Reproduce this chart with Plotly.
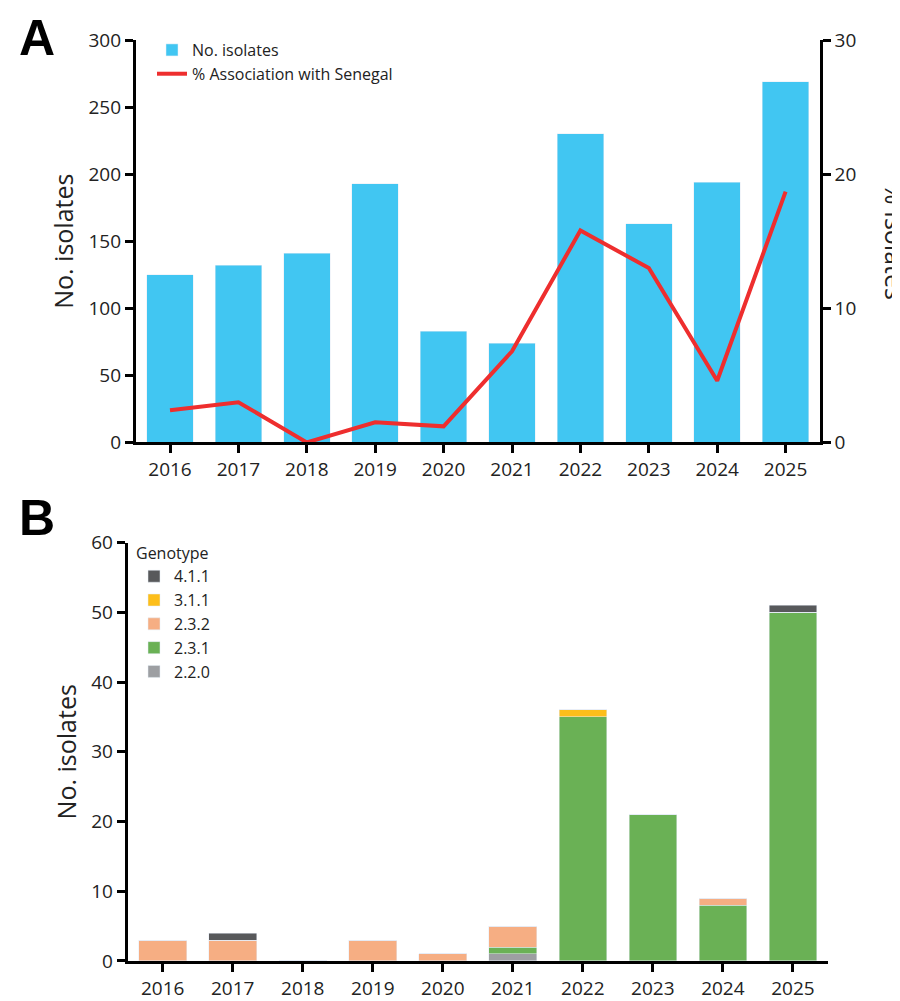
import plotly.graph_objects as go

years = ["2016","2017","2018","2019","2020","2021","2022","2023","2024","2025"]
n_isolates = [125,132,141,193,83,74,230,163,194,269]
pct_senegal = [2.4,3.0,0.0,1.5,1.2,6.8,15.8,13.0,4.6,18.7]
geno = {
    "2.2.0": [0,0,0,0,0,1,0,0,0,0],
    "2.3.1": [0,0,0,0,0,1,35,21,8,50],
    "2.3.2": [3,3,0,3,1,3,0,0,1,0],
    "3.1.1": [0,0,0,0,0,0,1,0,0,0],
    "4.1.1": [0,1,0,0,0,0,0,0,0,1],
}
geno_colors = {"2.2.0":"#9D9FA2","2.3.1":"#6AB155","2.3.2":"#F6AE83","3.1.1":"#FDBE1A","4.1.1":"#58595B"}

F = "Open Sans"
fig = go.Figure()
fig.add_bar(x=years, y=n_isolates, name="No. isolates", marker_color="#41C6F2",
            xaxis="x", yaxis="y", legend="legend", width=0.68, legendrank=1)
fig.add_scatter(x=years, y=pct_senegal, name="% Association with Senegal", mode="lines",
                line=dict(color="#EE2E2E", width=4), xaxis="x", yaxis="y2", legend="legend",
                legendrank=2)
for g in ["2.2.0","2.3.1","2.3.2","3.1.1","4.1.1"]:
    fig.add_bar(x=years, y=geno[g], name=g, marker_color=geno_colors[g],
                xaxis="x3", yaxis="y3", legend="legend2", width=0.68)

ax = dict(showline=True, linecolor="black", linewidth=3, ticks="outside", tickwidth=2.5,
          ticklen=8, tickcolor="black", showgrid=False, zeroline=False,
          tickfont=dict(family=F, size=19, color="#222"), automargin=False)
fig.update_layout(
    width=900, height=1001, margin=dict(l=0, r=0, t=0, b=0),
    plot_bgcolor="white", paper_bgcolor="white", barmode="stack", bargap=0.32,
    font=dict(family=F, color="#222"),
    xaxis=dict(ax, domain=[0.142,0.902], anchor="y"),
    yaxis=dict(ax, domain=[0.566,0.968], range=[0,300], dtick=50, anchor="x",
               title=dict(text="No. isolates", font=dict(family=F, size=25), standoff=8)),
    yaxis2=dict(ax, overlaying="y", side="right", anchor="x", range=[0,30], dtick=10),
    xaxis3=dict(ax, domain=[0.133,0.911], anchor="y3"),
    yaxis3=dict(ax, domain=[0.048,0.466], range=[0,60], dtick=10, anchor="x3",
                title=dict(text="No. isolates", font=dict(family=F, size=25), standoff=8)),
    legend=dict(x=0.16, y=0.975, xanchor="left", yanchor="top", bgcolor="rgba(0,0,0,0)",
                traceorder="normal", font=dict(family=F, size=16), tracegroupgap=2),
    legend2=dict(x=0.14, y=0.47, xanchor="left", yanchor="top", bgcolor="rgba(0,0,0,0)",
                 traceorder="reversed", font=dict(family=F, size=16),
                 title=dict(text="Genotype", font=dict(family=F, size=16))),
    annotations=[
        dict(text="<b>A</b>", x=0.01, y=1.0, xref="paper", yref="paper", xanchor="left",
             yanchor="top", showarrow=False, font=dict(family="Liberation Sans", size=50, color="black")),
        dict(text="<b>B</b>", x=0.01, y=0.52, xref="paper", yref="paper", xanchor="left",
             yanchor="top", showarrow=False, font=dict(family="Liberation Sans", size=50, color="black")),
        dict(text="% Isolates", x=0.985, y=0.767, xref="paper", yref="paper", xanchor="center",
             yanchor="middle", textangle=90, showarrow=False, font=dict(family=F, size=25, color="#222")),
    ],
)
fig.write_html("out.html")
